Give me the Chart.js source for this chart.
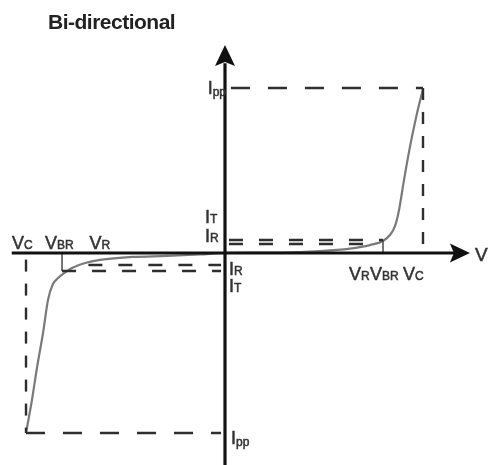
<!DOCTYPE html>
<html>
<head>
<meta charset="utf-8">
<script src="https://cdn.jsdelivr.net/npm/chart.js@4.4.0/dist/chart.umd.min.js"></script>
<style>
    html, body { margin: 0; padding: 0; background: #fff; }
</style>
</head>
<body>
<canvas id="myChart" width="489" height="465"></canvas>
<script>
(function () {
    "use strict";

    // V-I curve of the bi-directional TVS, normalised: Vc = 1, Ipp = 1
    var curveV = [-1.005, -0.975, -0.949, -0.919, -0.894, -0.869, -0.843, -0.818, -0.773, -0.707, -0.631,
        -0.465, -0.293, -0.126, 0, 0.278, 0.48, 0.631, 0.732, 0.798, 0.833, 0.859, 0.879, 0.904, 0.934, 0.97, 1.0];
    var curveI = [-1.091, -0.891, -0.691, -0.485, -0.285, -0.188, -0.152, -0.127, -0.091, -0.061, -0.042,
        -0.024, -0.018, -0.009, 0, 0.003, 0.012, 0.027, 0.048, 0.073, 0.109, 0.164, 0.261, 0.442, 0.642, 0.848, 0.994];

    // voltage levels (negative side, positive side)
    var vNeg = { C: -1.005, BR: -0.823, R: -0.69 };
    var vPos = { R: 0.74, BR: 0.798, C: 1.0 };
    // current levels
    var iNeg = { PP: -1.091, T: -0.109, R: -0.073 };
    var iPos = { PP: 1.0, T: 0.079, R: 0.055 };

    // axis extent and arrow tips
    var axisV = [-1.077, 1.2];
    var axisI = [-1.285, 1.15];
    var tipV = 1.237;
    var tipI = 1.261;

    var DASH = "#2e2e2e";
    var FONT = "'Liberation Sans', Arial, sans-serif";

    function seg(x1, y1, x2, y2, color, width, dash) {
        return {
            data: [{ x: x1, y: y1 }, { x: x2, y: y2 }],
            showLine: true,
            borderColor: color,
            borderWidth: width,
            borderDash: dash || [],
            pointRadius: 0,
            fill: false
        };
    }

    var curve = curveV.map(function (v, k) { return { x: v, y: curveI[k] }; });

    var datasets = [
        // axes
        seg(axisV[0], 0, axisV[1], 0, "#111", 3.2),
        seg(0, axisI[0], 0, axisI[1], "#111", 3.2),
        // Ipp / Vc boxes
        seg(0.03, iPos.PP, vPos.C, iPos.PP, DASH, 2.4, [19, 18]),
        seg(vPos.C, iPos.PP, vPos.C, 0, DASH, 2.4, [12, 12]),
        seg(vNeg.C, iNeg.PP, -0.02, iNeg.PP, DASH, 2.4, [19, 18]),
        seg(vNeg.C, -0.04, vNeg.C, iNeg.PP, DASH, 2.4, [12, 12]),
        // It / Ir levels
        seg(0.02, iPos.T, vPos.BR, iPos.T, DASH, 2.4, [14, 16]),
        seg(0.02, iPos.R, vPos.R, iPos.R, DASH, 2.4, [14, 16]),
        seg(vNeg.R, iNeg.R, -0.02, iNeg.R, DASH, 2.4, [14, 16]),
        seg(vNeg.BR, iNeg.T, -0.02, iNeg.T, DASH, 2.4, [14, 16]),
        // VBR markers
        seg(vPos.BR, 0, vPos.BR, iPos.T, "#555", 1.6),
        seg(vNeg.BR, 0, vNeg.BR, iNeg.T, "#555", 1.6),
        {
            data: curve,
            showLine: true,
            borderColor: "#7a7a7a",
            borderWidth: 2.2,
            cubicInterpolationMode: "monotone",
            pointRadius: 0,
            fill: false
        }
    ];

    function txt(c, s, x, y) {
        c.fillText(s, x, y);
        c.strokeText(s, x, y);
    }

    function label(c, x, y, main, sub, align) {
        c.font = "18px " + FONT;
        var w1 = c.measureText(main).width;
        c.font = "12px " + FONT;
        var w2 = c.measureText(sub).width;
        var x0 = align === "right" ? x - w1 - w2 : x;
        c.font = "18px " + FONT;
        txt(c, main, x0, y);
        c.font = "12px " + FONT;
        txt(c, sub, x0 + w1, y + (sub === "pp" ? 2 : 0));
    }

    var decorations = {
        id: "decorations",
        afterDatasetsDraw: function (chart) {
            var c = chart.ctx;
            var xs = chart.scales.x;
            var ys = chart.scales.y;
            var ox = xs.getPixelForValue(0);
            var oy = ys.getPixelForValue(0);
            c.save();

            // arrow heads
            c.fillStyle = "#111";
            var hx = xs.getPixelForValue(tipV);
            c.beginPath();
            c.moveTo(hx, oy);
            c.lineTo(hx - 20, oy - 9.5);
            c.lineTo(hx - 16, oy);
            c.lineTo(hx - 20, oy + 9.5);
            c.closePath();
            c.fill();
            var hy = ys.getPixelForValue(tipI);
            c.beginPath();
            c.moveTo(ox, hy);
            c.lineTo(ox - 10, hy + 21);
            c.lineTo(ox, hy + 17);
            c.lineTo(ox + 10, hy + 21);
            c.closePath();
            c.fill();

            c.fillStyle = "#333";
            c.strokeStyle = "#333";
            c.lineWidth = 0.5;
            c.textBaseline = "alphabetic";
            c.textAlign = "left";

            // current labels
            label(c, ox + 1, ys.getPixelForValue(iPos.PP) + 6, "I", "pp", "right");
            label(c, ox + 6, ys.getPixelForValue(iNeg.PP) + 11, "I", "pp");
            label(c, ox - 20, ys.getPixelForValue(iPos.T) - 17, "I", "T");
            label(c, ox - 20, ys.getPixelForValue(iPos.R) - 2, "I", "R");
            label(c, ox + 4, ys.getPixelForValue(iNeg.R) + 10, "I", "R");
            label(c, ox + 4, ys.getPixelForValue(iNeg.T) + 21, "I", "T");

            // voltage labels
            label(c, xs.getPixelForValue(vNeg.C) - 14, oy - 4, "V", "C");
            label(c, xs.getPixelForValue(vNeg.BR) - 17, oy - 4, "V", "BR");
            label(c, xs.getPixelForValue(vNeg.R) + 1, oy - 4, "V", "R");
            label(c, xs.getPixelForValue(vPos.BR) - 34, oy + 27, "V", "R");
            label(c, xs.getPixelForValue(vPos.BR) - 13, oy + 27, "V", "BR");
            label(c, xs.getPixelForValue(vPos.C) - 20, oy + 27, "V", "C");

            c.font = "19px " + FONT;
            txt(c, "V", hx + 5, oy + 8);

            // title
            c.fillStyle = "#222";
            c.font = "bold 21px " + FONT;
            c.letterSpacing = "-0.5px";
            c.fillText("Bi-directional", 48, 29);
            c.restore();
        }
    };

    new Chart(document.getElementById("myChart"), {
        type: "scatter",
        data: { datasets: datasets },
        options: {
            responsive: false,
            animation: false,
            devicePixelRatio: 1,
            layout: { padding: 0 },
            scales: {
                x: { type: "linear", display: false, min: -225 / 198, max: 264 / 198 },
                y: { type: "linear", display: false, min: -212 / 165, max: 253 / 165 }
            },
            plugins: {
                legend: { display: false },
                tooltip: { enabled: false }
            }
        },
        plugins: [decorations]
    });
})();
</script>
</body>
</html>
